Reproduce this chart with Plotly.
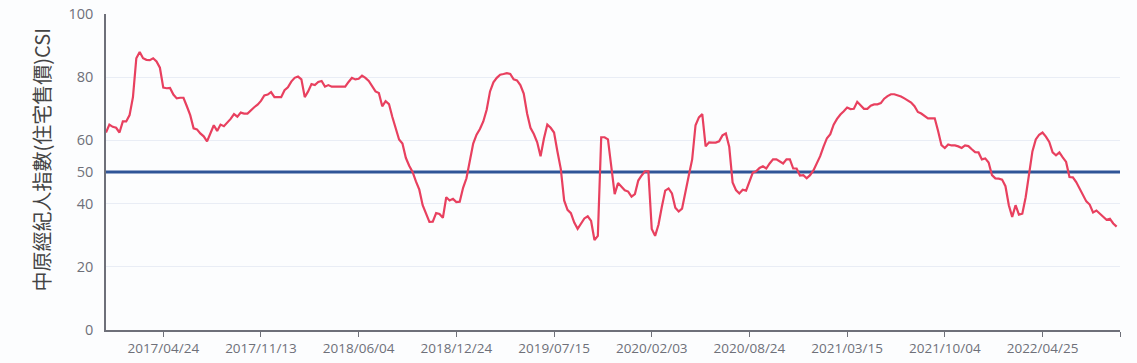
import plotly.graph_objects as go
import pandas as pd

start_date = "2016-12-26"
csi_values = [
    62.5, 65, 64.3, 64, 62.5, 66, 66, 68, 73.7, 86,
    88, 86, 85.5, 85.4, 86, 85, 83, 76.7, 76.5, 76.6,
    74.5, 73.3, 73.5, 73.5, 70.8, 68, 63.8, 63.5, 62.2, 61.3,
    59.7, 62, 64.8, 63, 65, 64.5, 65.5, 66.8, 68.3, 67.5,
    68.8, 68.5, 68.5, 69.6, 70.5, 71.3, 72.5, 74.2, 74.5, 75.3,
    73.7, 73.7, 73.7, 75.9, 76.8, 78.6, 79.8, 80.2, 79.3, 73.7,
    75.5, 77.8, 77.5, 78.5, 78.8, 77, 77.5, 77, 77, 77.2,
    77, 77, 78.5, 79.8, 79.3, 79.5, 80.5, 79.8, 78.8, 77,
    75.5, 75, 70.8, 72.4, 71.5, 67.4, 63.5, 60.3, 59, 54.5,
    52, 50, 47, 44.4, 39.5, 37, 34.2, 34.3, 37, 36.7,
    35.5, 42, 41, 41.5, 40.5, 40.6, 45, 48, 53.5, 59,
    61.8, 63.6, 66, 69.7, 75.5, 78.4, 79.8, 80.8, 81, 81.3,
    81, 79.3, 79, 77.5, 74.8, 68.5, 64, 62, 59.4, 55,
    60.6, 65, 64, 62.5, 56.5, 51, 41, 38, 37, 34,
    32, 33.8, 35.3, 36, 34.5, 28.5, 29.8, 61, 61, 60.3,
    51.4, 43, 46.5, 45.4, 44.2, 43.8, 42.2, 43, 47.3, 48.9,
    50.2, 50.2, 32, 29.8, 33.3, 39, 44.1, 44.8, 43.2, 38.7,
    37.5, 38.4, 43.2, 48.9, 54, 64.8, 67.3, 68.3, 58.1, 59.4,
    59.3, 59.3, 59.7, 61.6, 62.2, 58, 46.7, 44.3, 43.2, 44.4,
    44.1, 46.7, 49.8, 50.2, 51.3, 51.8, 51.1, 52.7, 54, 54,
    53.3, 52.7, 54, 54, 51.1, 51.1, 48.9, 49, 48, 49,
    50.5, 52.5, 55, 58, 60.7, 62, 65, 66.8, 68.2, 69.2,
    70.4, 69.9, 70, 72.2, 71, 70, 70, 71, 71.4, 71.4,
    71.8, 73.2, 74, 74.6, 74.6, 74.3, 73.9, 73.3, 72.6, 72,
    70.8, 69, 68.5, 67.6, 67, 67, 67, 63, 58.5, 57.6,
    58.7, 58.4, 58.4, 58.1, 57.6, 58.4, 58.2, 57.2, 56.3, 56.2,
    54, 54.3, 53, 49, 48, 47.9, 47.6, 45.5, 39.5, 35.8,
    39.5, 36.5, 36.8, 42, 49.5, 56.5, 60.3, 61.8, 62.5, 61.2,
    59.5, 56.2, 55.3, 56.2, 54.6, 53.2, 48.4, 48.3, 46.8, 44.8,
    42.9, 40.7, 39.7, 37.2, 37.8, 36.8, 35.9, 34.9, 35.2, 33.7,
    32.7,
]
threshold = 50
x_tick_dates = ["2017-04-24", "2017-11-13", "2018-06-04", "2018-12-24",
                "2019-07-15", "2020-02-03", "2020-08-24", "2021-03-15",
                "2021-10-04", "2022-04-25", "2022-10-03"]
x_tick_labels = ["2017/04/24", "2017/11/13", "2018/06/04", "2018/12/24",
                 "2019/07/15", "2020/02/03", "2020/08/24", "2021/03/15",
                 "2021/10/04", "2022/04/25", ""]
y_tick_vals = [0, 20, 40, 50, 60, 80, 100]
y_title = "中原經紀人指數(住宅售價)CSI"

dates = pd.date_range(start_date, periods=len(csi_values), freq="7D")
x_end = x_tick_dates[-1]

fig = go.Figure()
fig.add_trace(go.Scatter(
    x=[dates[0], x_end], y=[threshold, threshold], mode="lines",
    line=dict(color="#2f5597", width=3), hoverinfo="skip", showlegend=False))
fig.add_trace(go.Scatter(
    x=dates, y=csi_values, mode="lines",
    line=dict(color="#e8405f", width=2.2), showlegend=False))

axis_font = dict(family="Open Sans, Noto Sans, sans-serif", size=13.5, color="#6e7079")
fig.update_layout(
    width=1137, height=363,
    margin=dict(l=106, r=17, t=14, b=33, autoexpand=False),
    paper_bgcolor="#fcfdfe", plot_bgcolor="#fcfdfe",
    xaxis=dict(
        type="date", range=[dates[0], x_end], automargin=False,
        tickvals=x_tick_dates, ticktext=x_tick_labels,
        ticks="outside", ticklen=5, tickcolor="#6e7079", tickwidth=1,
        showline=True, linecolor="#6e7079", linewidth=1.5,
        showgrid=False, zeroline=False, tickfont=axis_font,
    ),
    yaxis=dict(
        range=[0, 100], tickvals=y_tick_vals, automargin=False,
        showline=True, linecolor="#6e7079", linewidth=1.5,
        showgrid=True, gridcolor="#e9edf5", gridwidth=1,
        zeroline=False, ticks="", ticklabelstandoff=8,
        tickfont=dict(family="Open Sans, Noto Sans, sans-serif", size=14.5, color="#6e7079"),
    ),
    annotations=[dict(
        text=y_title, textangle=-90, showarrow=False,
        xref="paper", yref="paper", x=-0.064, y=0.54,
        xanchor="center", yanchor="middle",
        font=dict(family="Noto Sans CJK TC, sans-serif", size=20, color="#444444"),
    )],
)
fig.write_html("out.html", config={"displayModeBar": False})

with open("out.html", "r", encoding="utf-8") as f:
    html = f.read()
html = html.replace("<head>", "<head><style>html,body{margin:0;padding:0;overflow:hidden;}</style>", 1)
with open("out.html", "w", encoding="utf-8") as f:
    f.write(html)
